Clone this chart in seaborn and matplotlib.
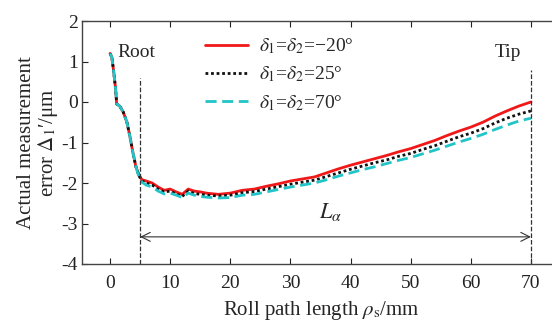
import matplotlib
matplotlib.use("Agg")
import matplotlib.pyplot as plt
import seaborn as sns
import pandas as pd

# ---- data ----
x_mm = [0, 0.3, 0.6, 0.9, 1.1, 1.6, 2.2, 2.8, 3.3, 3.8, 4.3, 4.8, 5.3, 6, 7, 8, 9, 10,
        11, 12, 13, 14, 15, 16, 18, 20, 22, 24, 26, 28, 30, 32, 34, 36, 38, 40, 42,
        44, 46, 48, 50, 52, 54, 56, 58, 60, 62, 64, 66, 68, 70]

err_m20 = [1.2, 1.1, 0.75, 0.35, -0.05, -0.1, -0.25, -0.5, -0.85, -1.25, -1.6, -1.8,
           -1.92, -1.95, -2.0, -2.1, -2.18, -2.15, -2.22, -2.28, -2.15, -2.2, -2.22,
           -2.25, -2.28, -2.25, -2.18, -2.15, -2.08, -2.02, -1.95, -1.9, -1.85, -1.75,
           -1.65, -1.56, -1.48, -1.4, -1.32, -1.23, -1.15, -1.05, -0.95, -0.83, -0.72,
           -0.62, -0.5, -0.35, -0.22, -0.1, 0.0]

err_25 = [1.2, 1.1, 0.75, 0.35, -0.05, -0.1, -0.25, -0.5, -0.85, -1.25, -1.6, -1.82,
          -1.95, -2.0, -2.05, -2.15, -2.22, -2.2, -2.27, -2.33, -2.2, -2.26, -2.28,
          -2.3, -2.32, -2.3, -2.24, -2.21, -2.15, -2.09, -2.03, -1.98, -1.93, -1.84,
          -1.75, -1.66, -1.58, -1.5, -1.43, -1.34, -1.27, -1.17, -1.08, -0.97, -0.86,
          -0.77, -0.66, -0.52, -0.4, -0.3, -0.22]

err_70 = [1.2, 1.1, 0.75, 0.35, -0.05, -0.1, -0.25, -0.5, -0.85, -1.25, -1.6, -1.85,
          -1.98, -2.05, -2.1, -2.2, -2.27, -2.25, -2.3, -2.36, -2.25, -2.3, -2.33,
          -2.35, -2.37, -2.36, -2.3, -2.28, -2.22, -2.16, -2.1, -2.05, -2.0, -1.92,
          -1.83, -1.75, -1.67, -1.6, -1.52, -1.44, -1.37, -1.28, -1.19, -1.09, -0.99,
          -0.9, -0.8, -0.68, -0.57, -0.47, -0.4]

series_labels = ["$\\delta_1$=$\\delta_2$=\u221220\u00b0",
                 "$\\delta_1$=$\\delta_2$=25\u00b0",
                 "$\\delta_1$=$\\delta_2$=70\u00b0"]

x_ticks = [0, 10, 20, 30, 40, 50, 60, 70]
y_ticks = [-4, -3, -2, -1, 0, 1, 2]

root_x, tip_x = 5, 70

# ---- build long table ----
df = pd.DataFrame({
    "x": x_mm * 3,
    "y": err_m20 + err_25 + err_70,
    "case": [series_labels[0]] * len(x_mm) + [series_labels[1]] * len(x_mm)
            + [series_labels[2]] * len(x_mm),
})

sns.set_style("ticks")
plt.rcParams["font.family"] = ["Liberation Serif", "DejaVu Serif"]
plt.rcParams["mathtext.fontset"] = "stix"
plt.rcParams["axes.unicode_minus"] = False

fig = plt.figure(figsize=(5.52, 3.22), dpi=100)
ax = fig.add_axes([82 / 552, 58 / 322, (561 - 82) / 552, (264 - 21) / 322])

palette = {series_labels[0]: "#f01818", series_labels[1]: "#111111",
           series_labels[2]: "#22c4c8"}
dashes = {series_labels[0]: "", series_labels[1]: (1, 1),
          series_labels[2]: (4, 2)}
sns.lineplot(data=df, x="x", y="y", hue="case", style="case", palette=palette,
             dashes=dashes, linewidth=2.0, ax=ax, legend=True)

ax.set_xlim(-4.67, 75)
ax.set_ylim(-4, 2)
ax.set_xticks(x_ticks)
ax.set_yticks(y_ticks)
ax.tick_params(direction="in", top=True, right=False, length=4, width=0.8,
               labelsize=14, colors="#222222")
ax.tick_params(axis="x", pad=8)
ax.tick_params(axis="y", pad=3)
for s in ax.spines.values():
    s.set_color("#444444")
    s.set_linewidth(1.0)

ax.set_xlabel("Roll path length $\\rho_\\mathrm{s}$/mm", fontsize=15, labelpad=5)
ax.set_ylabel("Actual measurement\nerror $\\Delta_1$\u2032/\u03bcm", fontsize=15,
              labelpad=1, linespacing=1.0)

leg = ax.legend(loc="upper left", bbox_to_anchor=(0.232, 0.985), frameon=False,
                fontsize=14, handlelength=2.2, handletextpad=0.6,
                labelspacing=0.45, borderaxespad=0.2)

# annotations
ax.plot([root_x, root_x], [-4, 0.6], color="#333333", ls="--", lw=0.9)
ax.plot([tip_x, tip_x], [-4, 0.8], color="#333333", ls="--", lw=0.9)
ax.annotate("", xy=(root_x, -3.33), xytext=(tip_x, -3.33),
            arrowprops=dict(arrowstyle="<->", color="#333333", lw=0.8,
                            mutation_scale=16, shrinkA=0, shrinkB=0))
ax.text(36.6, -2.72, "$L_\\alpha$", fontsize=16, ha="center", va="center")
ax.text(1.2, 1.23, "Root", fontsize=14, ha="left", va="center")
ax.text(66.2, 1.21, "Tip", fontsize=14, ha="center", va="center")

fig.savefig("out.png", dpi=100)
